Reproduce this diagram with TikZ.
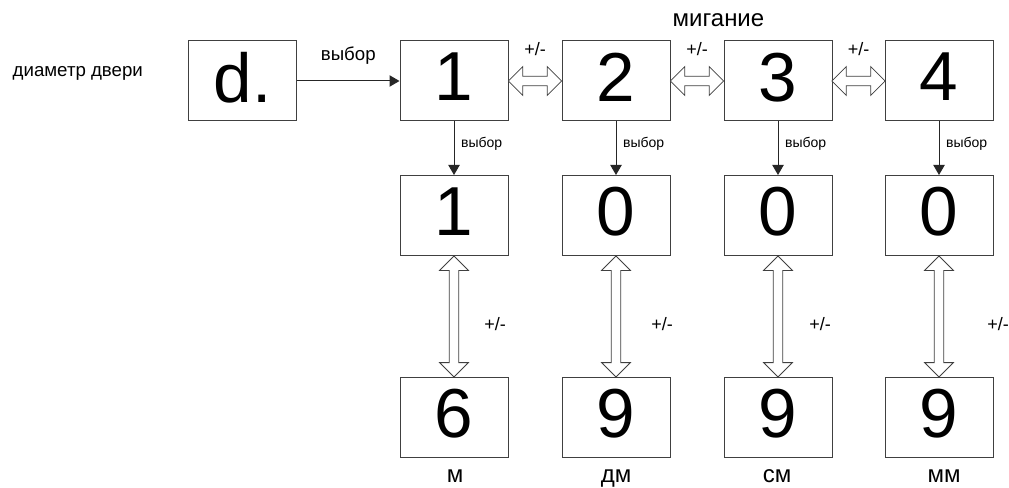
\documentclass[tikz,border=0pt]{standalone}
\usepackage{fontspec}
\setmainfont{Liberation Sans}
\usetikzlibrary{arrows.meta,shapes.arrows,calc}

\begin{document}
\begin{tikzpicture}[x=0.75pt,y=-0.75pt,
	box/.style={draw=black!75, line width=0.75pt, minimum width=81pt, minimum height=60pt, inner sep=0pt, text depth=6pt, font=\fontsize{52}{52}\selectfont},
	sel/.style={draw=black!85, line width=0.75pt, -{Triangle[length=7.5pt,width=8.5pt]}},
	dbl/.style={double arrow, draw=black!75, fill=white, line width=0.6pt, inner xsep=0pt, inner ysep=3.2pt, minimum width=21pt, double arrow head extend=7.3pt},
	small/.style={font=\fontsize{10.5}{12}\selectfont},
	mid/.style={font=\fontsize{13.5}{15}\selectfont},
	big/.style={font=\fontsize{18}{20}\selectfont}]

	\def \ytop {81}
	\def \ymid {215.5}
	\def \ybot {417.5}

	\useasboundingbox (0,0) rectangle (1009,488);

	\node[anchor=base west, font=\fontsize{14}{16}\selectfont] (title) at (8,77) {диаметр двери};
	\node[anchor=base west, big] (blink) at (668,27) {мигание};

	\node[box] (d) at (242.5,\ytop) {d.};

	\foreach \i/\x/\a/\b/\u/\ux/\px in {1/454/1/6/м/455/495, 2/616/0/9/дм/616/662, 3/778/0/9/см/777/820, 4/939/0/9/мм/944/998}{
		\node[box] (t\i) at (\x,\ytop) {\i};
		\node[box] (m\i) at (\x,\ymid) {\a};
		\node[box] (b\i) at (\x,\ybot) {\b};
		\draw[sel] (t\i) -- node[small, pos=0.42, right=5pt, inner sep=0pt] {выбор} (m\i);
		\node[dbl, rotate=90, minimum height=90.75pt] (v\i) at ($(m\i.south)!0.5!(b\i.north)$) {};
		\node[mid, anchor=base] (pm\i) at (\px,330) {+/-};
		\node[big, anchor=base, inner sep=0pt] (u\i) at (\ux,482) {\u};
	}

	\draw[sel] (d) -- node[above=12pt, inner sep=0pt, font=\fontsize{14}{16}\selectfont] {выбор} (t1);

	\foreach \i/\j in {1/2, 2/3, 3/4}{
		\node[dbl, minimum height=40pt] (h\i) at ($(t\i.east)!0.5!(t\j.west)$) {};
		\node[mid, anchor=base, yshift=18.75pt] (hl\i) at (h\i) {+/-};
	}
%	\node[dbl, minimum height=40pt] at (0,0) {};

\end{tikzpicture}
\end{document}
